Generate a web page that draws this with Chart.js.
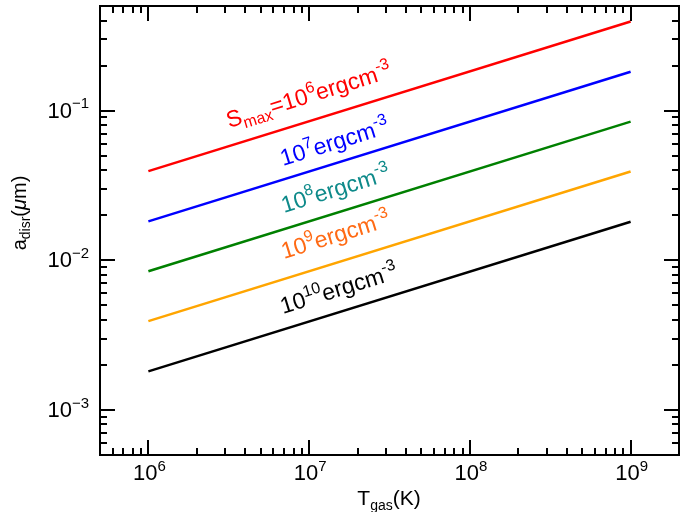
<!DOCTYPE html>
<html>
<head>
<meta charset="utf-8">
<script src="https://cdn.jsdelivr.net/npm/chart.js@4/dist/chart.umd.min.js"></script>
<style>
html,body{margin:0;padding:0;background:#fff;}
#wrap{width:689px;height:512px;}
</style>
</head>
<body>
<div id="wrap"><canvas id="c" width="689" height="512"></canvas></div>
<script>
// ---- data ----
const temperatures = [1e6, 1e9];              // T_gas (K)
const aSmax1e6  = [0.0394, 0.394];            // S_max = 1e6 erg cm^-3
const aSmax1e7  = [0.0182, 0.182];
const aSmax1e8  = [0.00844, 0.0844];
const aSmax1e9  = [0.00392, 0.0392];
const aSmax1e10 = [0.00181, 0.0181];

const xTickValues = [1e6, 1e7, 1e8, 1e9];
const xTickLabels = ['10^6', '10^7', '10^8', '10^9'];
const yTickValues = [1e-1, 1e-2, 1e-3];
const yTickLabels = ['10^\u22121', '10^\u22122', '10^\u22123'];

const seriesValues = [aSmax1e6, aSmax1e7, aSmax1e8, aSmax1e9, aSmax1e10];
const lineColors = ['#ff0000', '#0000ff', '#008000', '#ffa500', '#000000'];

// annotation texts: [text, kind] with kind n/sub/sup
const annTexts = [
  [['S','n'],['max','sub'],['=10','n'],['6','sup'],['ergcm','n'],['-3','sup']],
  [['10','n'],['7','sup'],['ergcm','n'],['-3','sup']],
  [['10','n'],['8','sup'],['ergcm','n'],['-3','sup']],
  [['10','n'],['9','sup'],['ergcm','n'],['-3','sup']],
  [['10','n'],['10','sup'],['ergcm','n'],['-3','sup']]
];
const annColors = ['#ff0000', '#0000ff', '#0e8a8a', '#ff6a14', '#000000'];
const annStart = [[229,128],[283,166],[284,213],[284,259],[283,314]];

const FONT = '"Liberation Sans", Arial, Helvetica, sans-serif';

function parsePow(s){ const i = s.indexOf('^'); return i<0 ? [[s,'n']] : [[s.slice(0,i),'n'],[s.slice(i+1),'sup']]; }

function partsWidth(ctx, parts, size){
  let w = 0;
  for (const [t,k] of parts){
    ctx.font = (k==='n'? size : Math.round(size*0.68)) + 'px ' + FONT;
    w += ctx.measureText(t).width;
  }
  return w;
}
function drawParts(ctx, parts, x, y, size){
  let cx = x;
  for (const [t,k] of parts){
    const s = k==='n'? size : Math.round(size*0.68);
    ctx.font = s + 'px ' + FONT;
    let dy = 0;
    if (k==='sup') dy = -size*0.42;
    if (k==='sub') dy = size*0.22;
    ctx.fillText(t, cx, y+dy);
    cx += ctx.measureText(t).width;
  }
}

const framePlugin = {
  id: 'frame',
  afterDraw(chart){
    const ctx = chart.ctx, a = chart.chartArea;
    const xs = chart.scales.x, ys = chart.scales.y;
    ctx.save();
    ctx.strokeStyle = '#000'; ctx.lineWidth = 2; ctx.lineCap = 'butt';
    ctx.strokeRect(a.left, a.top, a.right-a.left, a.bottom-a.top);
    // ticks
    const major = 15, minor = 7;
    ctx.beginPath();
    for (let d = 5; d <= 9; d++){
      for (let k = 1; k <= 9; k++){
        const v = k*Math.pow(10,d);
        if (v <= xs.min*1.0001 || v >= xs.max*0.9999) continue;
        const px = Math.round(xs.getPixelForValue(v));
        const L = k===1 ? major : minor;
        ctx.moveTo(px, a.bottom); ctx.lineTo(px, a.bottom-L);
        ctx.moveTo(px, a.top); ctx.lineTo(px, a.top+L);
      }
    }
    for (let d = -4; d <= -1; d++){
      for (let k = 1; k <= 9; k++){
        const v = k*Math.pow(10,d);
        if (v <= ys.min*1.0001 || v >= ys.max*0.9999) continue;
        const py = Math.round(ys.getPixelForValue(v));
        const L = k===1 ? major : minor;
        ctx.moveTo(a.left, py); ctx.lineTo(a.left+L, py);
        ctx.moveTo(a.right, py); ctx.lineTo(a.right-L, py);
      }
    }
    ctx.stroke();
    // tick labels
    ctx.fillStyle = '#000'; ctx.textBaseline = 'alphabetic'; ctx.textAlign = 'left';
    const TS = 22;
    xTickValues.forEach((v,i)=>{
      const parts = parsePow(xTickLabels[i]);
      const w = partsWidth(ctx, parts, TS);
      const px = xs.getPixelForValue(v);
      drawParts(ctx, parts, px - w/2 + 1, a.bottom + 25, TS);
    });
    yTickValues.forEach((v,i)=>{
      const parts = parsePow(yTickLabels[i]);
      const w = partsWidth(ctx, parts, TS);
      const py = ys.getPixelForValue(v);
      drawParts(ctx, parts, a.left - 11 - w, py + 7, TS);
    });
    // x title
    const xt = [['T','n'],['gas','sub'],['(K)','n']];
    const xw = partsWidth(ctx, xt, 21);
    drawParts(ctx, xt, 389 - xw/2, 505, 21);
    // y title
    ctx.save();
    ctx.translate(26, 213); ctx.rotate(-Math.PI/2);
    const yt = [['a','n'],['disr','sub'],['(','n']];
    let yw = partsWidth(ctx, yt, 20);
    ctx.font = 'italic 20px ' + FONT; yw += ctx.measureText('\u03bc').width;
    ctx.font = '20px ' + FONT; yw += ctx.measureText('m)').width;
    let sx = -yw/2;
    drawParts(ctx, yt, sx, 0, 20);
    sx += partsWidth(ctx, yt, 20);
    ctx.font = 'italic 20px ' + FONT; ctx.fillText('\u03bc', sx, 0); sx += ctx.measureText('\u03bc').width;
    ctx.font = '20px ' + FONT; ctx.fillText('m)', sx, 0);
    ctx.restore();
    // annotations along lines
    const p0x = xs.getPixelForValue(temperatures[0]), p1x = xs.getPixelForValue(temperatures[1]);
    seriesValues.forEach((vals, i)=>{
      const p0y = ys.getPixelForValue(vals[0]), p1y = ys.getPixelForValue(vals[1]);
      const ang = Math.atan2(p1y-p0y, p1x-p0x);
      ctx.save();
      ctx.translate(annStart[i][0], annStart[i][1]);
      ctx.rotate(ang);
      ctx.fillStyle = annColors[i];
      drawParts(ctx, annTexts[i], 0, 0, 23);
      ctx.restore();
    });
    ctx.restore();
  }
};

const datasets = seriesValues.map((vals, i)=>({
  data: temperatures.map((t, j)=>({x: t, y: vals[j]})),
  borderColor: lineColors[i],
  borderWidth: 2.5,
  pointRadius: 0,
  fill: false,
  tension: 0
}));

new Chart(document.getElementById('c'), {
  type: 'line',
  data: { datasets },
  options: {
    responsive: false,
    animation: false,
    layout: { padding: { left: 0, right: 10, top: 6, bottom: 0 } },
    plugins: { legend: { display: false }, tooltip: { enabled: false } },
    scales: {
      x: {
        type: 'logarithmic', min: 5e5, max: 2e9,
        grid: { display: false }, border: { display: false },
        ticks: { display: false },
        afterFit(s){ s.height = 57; }
      },
      y: {
        type: 'logarithmic', min: 5e-4, max: 0.5,
        grid: { display: false }, border: { display: false },
        ticks: { display: false },
        afterFit(s){ s.width = 100; }
      }
    }
  },
  plugins: [framePlugin]
});
</script>
</body>
</html>
